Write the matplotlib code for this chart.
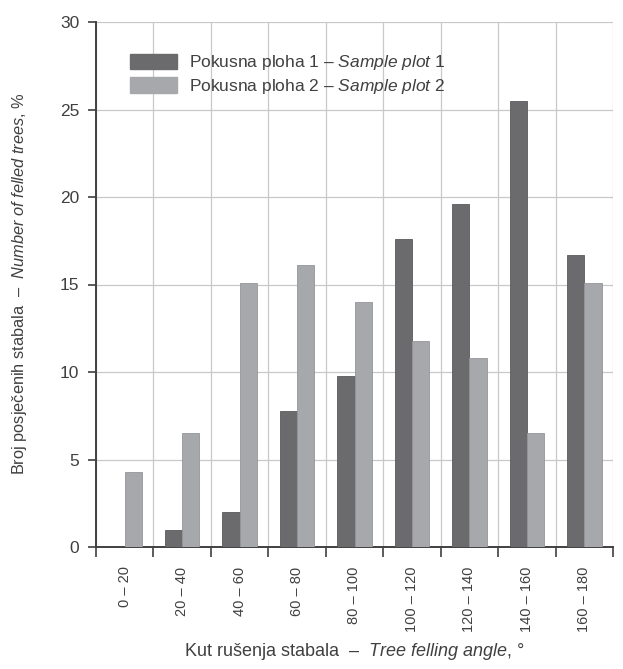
import matplotlib
matplotlib.use("Agg")
import matplotlib.pyplot as plt
import numpy as np
from matplotlib.patches import Patch
from matplotlib import font_manager

categories = ["0 – 20", "20 – 40", "40 – 60", "60 – 80", "80 – 100",
              "100 – 120", "120 – 140", "140 – 160", "160 – 180"]
plot1 = [0, 1.0, 2.0, 7.8, 9.8, 17.6, 19.6, 25.5, 16.7]
plot2 = [4.3, 6.5, 15.1, 16.1, 14.0, 11.8, 10.8, 6.5, 15.1]
yticks = [0, 5, 10, 15, 20, 25, 30]

names = {f.name for f in font_manager.fontManager.ttflist}
fam = "Liberation Sans Narrow" if "Liberation Sans Narrow" in names else "Liberation Sans"
plt.rcParams['font.family'] = [fam, 'DejaVu Sans']
plt.rcParams['mathtext.fontset'] = 'custom'
plt.rcParams['mathtext.rm'] = fam
plt.rcParams['mathtext.it'] = fam + ':italic'
plt.rcParams['mathtext.bf'] = fam + ':bold'

txt = "#404040"
dark = "#6b6b6d"
light = "#a7a8ab"

fig = plt.figure(figsize=(6.23, 6.69), dpi=100)
ax = fig.add_axes([96/623, 122/669, 517/623, 525/669])

x = np.arange(len(categories)) + 0.5
w = 0.3
ax.bar(x - w/2, plot1, width=w, color=dark, edgecolor="#5a5a5c", linewidth=0.6, zorder=3)
ax.bar(x + w/2, plot2, width=w, color=light, edgecolor="#959699", linewidth=0.6, zorder=3)

ax.set_xlim(0, len(categories))
ax.set_ylim(0, 30)
ax.set_yticks(yticks)
ax.set_xticks(np.arange(len(categories) + 1))
ax.set_xticklabels([])
ax.set_xticks(x, minor=True)
ax.set_xticklabels(categories, minor=True, rotation=90, fontsize=10.5, color=txt)
ax.tick_params(axis='x', which='minor', length=0, pad=14)
ax.tick_params(axis='x', which='major', length=7, width=1.2, color=txt)
ax.tick_params(axis='y', length=6, width=1.2, color=txt, labelsize=12.5, labelcolor=txt, pad=6)

ax.grid(True, axis='both', which='major', color="#c8c8c8", linewidth=0.9, zorder=0)
ax.set_axisbelow(True)
for s in ['top', 'right']:
    ax.spines[s].set_visible(False)
for s in ['left', 'bottom']:
    ax.spines[s].set_color(txt)
    ax.spines[s].set_linewidth(1.4)

fig.text(20/623, 1 - 284/669,
         "Broj posječenih stabala  –  $\\it{Number\\ of\\ felled\\ trees}$, %",
         rotation=90, ha='center', va='center', fontsize=11.8, color=txt)
fig.text(354/623, 1 - 652/669,
         "Kut rušenja stabala  –  $\\it{Tree\\ felling\\ angle}$, °",
         ha='center', va='center', fontsize=13, color=txt)

handles = [Patch(facecolor=dark, edgecolor=dark), Patch(facecolor=light, edgecolor=light)]
labels = ["Pokusna ploha 1 – $\\it{Sample\\ plot\\ 1}$", "Pokusna ploha 2 – $\\it{Sample\\ plot\\ 2}$"]
leg = ax.legend(handles, labels, loc='upper left', bbox_to_anchor=(0.035, 0.97), frameon=False,
                fontsize=12.5, handlelength=2.7, handleheight=1.0, labelspacing=0.25, handletextpad=0.7)
for t in leg.get_texts():
    t.set_color(txt)

fig.savefig("out.png", dpi=100)
